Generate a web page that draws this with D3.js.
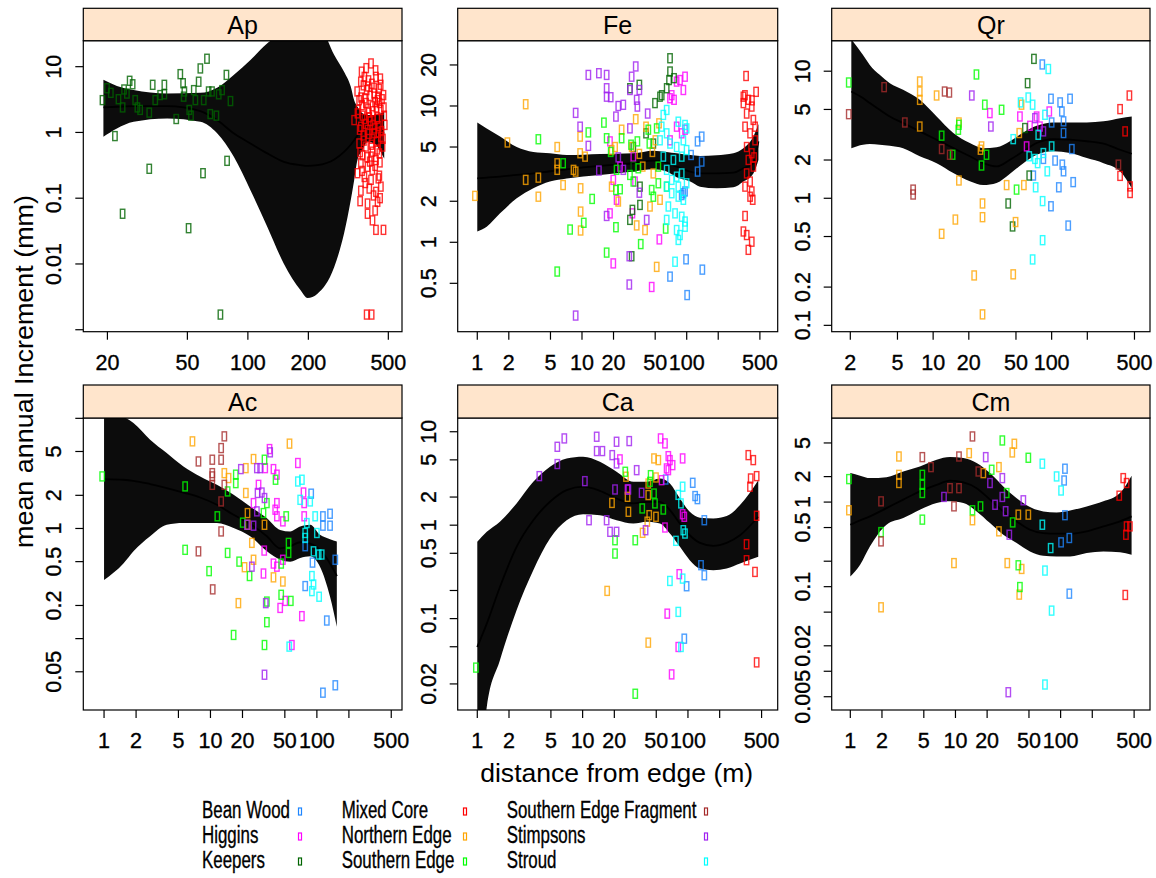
<!DOCTYPE html>
<html lang="en">
<head>
<meta charset="UTF-8">
<title>mean annual increment vs distance from edge</title>
<style>
  body { margin: 0; background: #fff; }
  svg { display: block; font-family: 'Liberation Sans', Arial, sans-serif; }
  .lbl { stroke: #000; stroke-width: 0.35; }
</style>
</head>
<body>
<script src="https://cdn.jsdelivr.net/npm/d3@7"></script>
<script>

var sites = ['Bean Wood', 'Higgins', 'Keepers', 'Mixed Core', 'Northern Edge',
             'Southern Edge', 'Southern Edge Fragment', 'Stimpsons', 'Stroud'];
var siteColors = ['#1e86ff', '#ff00ff', '#006400', '#ff0000', '#ffa500',
                  '#00ff00', '#a52a2a', '#a020f0', '#00ffff'];

// ---- Ap ----
var apKeepers = [[18.9,3.1],[19.9,4.7],[20.8,4.0],[21.8,0.88],[22.7,3.2],[23.8,2.4],[23.8,0.058],[24.2,4.5],[25,3.9],[25.8,6.1],[26.7,5.4],[27.5,3.1],[28.2,2.4],[29.1,2.2],[32.3,2.0],[32.3,0.28],[33.6,5.3],[34.6,3.1],[36.6,3.7],[38.4,5.3],[38.4,3.8],[44,1.6],[46.1,7.7],[47.6,5.6],[47.9,3.5],[48.3,4.2],[50.7,0.035],[51.1,2.2],[52.1,1.8],[53.8,4.4],[54.8,3.1],[56.9,5.9],[58,9.4],[59.8,0.24],[60.3,3.1],[62.6,13.2],[63.8,4.2],[65,1.9],[66.3,4.2],[69.7,1.8],[71.6,3.8],[73,0.0017],[74.4,4.4],[78.2,7.5],[78.8,0.37],[81.9,3.0]];
var apMixedCore = [[368,8.4],[410,11.2],[434,7.0],[456,6.6],[365,5.9],[394,5.0],[425,3.9],[473,3.7],[358,3.1],[387,2.8],[417,2.5],[459,2.2],[351,1.95],[380,1.6],[442,1.7],[477,1.8],[365,1.22],[394,1.09],[425,0.97],[459,0.86],[358,0.68],[387,0.61],[417,0.51],[451,0.48],[365,0.34],[394,0.30],[434,0.38],[351,0.24],[380,0.21],[410,0.19],[451,0.22],[365,0.13],[402,0.14],[434,0.125],[459,0.15],[394,0.083],[442,0.088],[394,0.058],[417,0.046],[434,0.033],[473,0.033],[390,0.0017],[413,0.0017],[372,0.45],[468,0.61],[338,1.54],[402,1.7],[442,3.1],[380,7.0],[410,0.43],[400,2.0],[420,1.3],[445,1.0],[370,2.6],[430,2.9],[390,4.4],[450,4.6],[415,0.8],[375,0.9],[440,0.55],
  [350,4.2],[355,2.2],[360,1.1],[362,0.5],[366,3.4],[370,0.26],[372,1.8],[376,5.2],[378,0.75],[382,3.3],[384,0.17],[386,1.35],[388,9.5],[392,0.42],[396,2.3],[398,6.2],[400,0.95],[404,0.36],[406,3.6],[408,1.5],[412,0.65],[414,5.5],[416,0.27],[418,2.1],[422,0.11],[424,4.8],[428,1.15],[430,0.31],[432,8.8],[436,2.4],[438,0.72],[440,1.6],[444,3.5],[446,0.2],[448,1.25],[452,2.8],[454,0.35],[458,5.3],[462,1.05],[465,3.2],[470,0.8],[475,2.4],[480,1.3],[362,0.09],[430,0.065],[455,0.1]];
var apBandX   = [19.1,22.3,27,39.6,58,70.3,85,103,125,151,183,198,222,269,301,325,338,351,372,394,425,477];
var apBandFit = [2.40,2.46,2.52,2.52,2.11,1.54,0.97,0.68,0.48,0.357,0.318,0.31,0.318,0.388,0.508,0.65,0.76,0.9,1.1,1.25,1.1,0.97];
var apBandLo  = [0.86,1.15,1.45,1.63,1.45,0.97,0.43,0.132,0.0366,0.0101,0.00397,0.00303,0.00353,0.0090,0.029,0.093,0.188,0.38,0.54,0.72,0.68,0.40];
var apBandHi  = [6.3,5.1,4.4,3.9,4.0,4.8,7.5,12.6,22.7,34,51,54,48,15.1,8.4,5.0,3.1,2.46,1.95,1.84,1.84,2.07];

// ---- Fe ----
var feBeanWood = [[110,4.37],[127,5.5],[139,5.96],[127,3.3],[139,3.91],[141,0.63],[101,0.41],[98.6,0.75],[92.9,2.29],[96.4,2.36],[89.6,2.22],[69.3,0.56]];
var feHiggins = [[18.5,5.5],[19.9,0.70],[19.9,2.87],[21.4,2.05],[30.3,1.63],[32.1,2.79],[46.3,0.47],[54.8,1.05],[69.3,11.4],[71.9,12.0],[75.7,11.1],[80.2,15.1],[86.3,15.5],[92.9,13.1],[96.4,16.4],[18.5,1.63],[23.1,3.59],[30.9,4.25],[69.3,5.6],[80.2,7.05],[89.6,6.3],[96.4,6.7]];
var feKeepers = [[28.7,13.5],[30.3,1.73],[30.9,5.0],[35.3,14.3],[35.8,2.56],[35.8,1.88],[49.8,10.5],[55.6,11.7],[57.7,12.0],[64.4,13.5],[67.8,15.5],[69.3,22.4],[75.7,16.0],[69.3,17.9],[28.7,1.46],[29.8,0.79],[40.9,6.3],[48,5.3],[30.9,3.59]];
var feMixedCore = [[369,16.6],[460,12.7],[348,11.7],[388,11.1],[418,9.9],[374,8.8],[433,7.9],[361,7.05],[403,6.3],[450,5.6],[374,5.0],[418,4.5],[388,4.02],[433,3.59],[374,3.2],[403,2.79],[418,2.36],[403,2.16],[361,1.56],[348,1.2],[374,1.13],[418,1.01],[388,0.88],[427,2.05],[361,2.56],[450,7.05],[348,10.5],[360,12],[420,11],[440,4.2]];
var feNorthernEdge = [[0.95,2.19],[1.94,5.4],[2.9,10.3],[2.9,2.87],[3.83,2.98],[3.83,2.16],[5.8,5.0],[5.8,3.8],[5.8,3.4],[6.6,2.63],[8.3,3.4],[8.7,3.3],[9.6,5.96],[9.6,4.5],[9.7,2.49],[9.7,1.68],[9.7,1.22],[10.7,4.25],[19.2,4.75],[19.2,2.56],[20.7,5.0],[22.2,1.99],[23.9,6.7],[29.8,5.0],[32.6,8.0],[33.3,1.33],[35.3,4.45],[38,3.59],[40,1.23],[40.9,7.05],[44.6,1.83],[51.7,0.66],[54.4,7.46],[55.6,2.05],[47,4.6],[50.2,5.6],[48,3.2]];
var feSouthernEdge = [[3.83,5.7],[5.8,0.61],[6.6,3.8],[7.7,1.24],[10.4,1.39],[11.5,6.4],[12.5,2.08],[16.2,7.55],[17.2,5.8],[17.2,0.84],[18.8,4.6],[21.1,1.29],[21.4,3.4],[21.1,2.42],[23.1,2.45],[23.9,5.8],[28.7,3.12],[29.4,5.2],[30.9,2.79],[33.8,5.5],[34.5,3.49],[36.4,0.97],[43,6.7],[46.3,2.42],[48,2.16],[53.6,2.71],[53.6,3.59],[63,1.26],[64.4,2.56],[44,5.3],[51.7,6.85]];
var feStimpsons = [[8.7,8.9],[9.6,7.05],[11.5,5.1],[11.5,16.9],[14.5,17.4],[14.5,3.36],[17.2,16.9],[17.2,13.5],[17.2,11.7],[17.2,1.56],[18.8,11.6],[21.1,8.36],[22.2,10],[24.8,10.2],[28.7,6.85],[28.7,13.1],[29.8,16.4],[32.6,19.5],[33.3,11.1],[33.8,9.9],[35.3,2.31],[35.3,13.1],[41.5,1.46],[42.4,8.8],[28.3,0.49],[28.3,0.79],[8.7,0.29],[24.8,3.4],[22.2,4.2]];
var feStroud = [[59.8,8.6],[64.4,9.35],[57.7,7.05],[64.4,6.3],[83.2,7.67],[96.4,7.26],[99.8,6.85],[55.6,5.6],[69.3,5.3],[80.2,5.0],[92.9,5.6],[59.8,4.25],[74.6,4.02],[89.6,4.25],[99.8,4.75],[64.4,3.4],[80.2,3.03],[89.6,3.2],[99.8,2.71],[64.4,2.56],[71.9,2.29],[83.2,2.16],[92.9,2.05],[66.8,1.83],[77.4,1.63],[89.6,1.54],[96.4,1.42],[80.2,1.23],[86.3,1.13],[96.4,1.30],[83.2,1.04],[77.4,0.72],[64.4,1.46],[83.2,2.56],[71.9,2.87]];
var feBandX   = [1,1.23,1.65,2.38,3.43,4.94,7.14,14.9,30.9,48,64.4,80.2,108,134,194,279,348,433,484];
var feBandFit = [2.94,2.98,3.03,3.12,3.2,3.32,3.43,3.63,3.80,3.97,3.84,3.59,3.3,3.2,3.2,3.24,3.49,3.80,5.5];
var feBandLo  = [1.20,1.30,1.63,2.10,2.49,2.79,2.94,3.12,3.3,3.43,3.3,3.0,2.79,2.56,2.49,2.53,2.79,3.2,4.02];
var feBandHi  = [7.55,6.85,5.96,5.0,4.6,4.5,4.37,4.45,4.5,4.7,4.6,4.5,4.37,4.30,4.35,4.5,4.89,5.96,7.38];

// ---- Qr ----
var qrBeanWood = [[83.4,11.3],[98.7,6.07],[118,5.68],[143,6.07],[122,4.82],[126,4.03],[126,3.26],[100,3.95],[148,2.44],[107,1.98],[123,1.84],[126,1.63],[152,1.34],[115,1.22],[98.7,0.865],[138,0.61],[70,1.51],[85.1,2.04]];
var qrHiggins = [[30.1,4.68],[54,4.40],[65.6,3.72],[95.5,4.82],[74.7,4.40],[61.5,2.56],[79.7,3.67]];
var qrKeepers = [[70.9,12.5],[62.7,8.05],[43,0.91],[46.8,0.60],[64.7,1.51],[59.5,3.57]];
var qrMixedCore = [[453,6.44],[378,5.03],[417,3.36],[459,1.24],[459,1.10],[378,1.50]];
var qrNorthernEdge = [[7.71,8.3],[7.71,6.92],[7.71,5.95],[7.71,3.67],[10.7,6.44],[16.5,3.95],[16.5,1.38],[15.4,0.68],[11.8,0.525],[26.1,0.91],[26.1,0.71],[22.2,0.247],[26.1,0.122],[25.1,2.41],[41.7,1.27],[49.6,0.65],[47.4,0.252],[58.3,1.27],[55.7,5.45],[53.3,3.26],[25.6,2.56]];
var qrSouthernEdge = [[1.94,8.15],[23.2,9.42],[27.3,5.45],[37.8,4.97],[16.3,3.46],[11.8,3.11],[14.6,2.20],[25.6,1.81],[28.2,2.20],[50.6,1.17],[16.5,3.79]];
var qrSouthernFragment = [[1.94,4.59],[3.86,7.49],[5.77,3.95],[6.78,1.07],[6.78,1.17],[12.5,6.92],[13.7,6.79],[11.8,2.44],[13.8,2.20],[366,1.84]];
var qrStimpsons = [[21.2,6.44],[30.7,3.67],[72.3,4.27],[85.1,3.36]];
var qrStroud = [[93.7,10.4],[63.5,6.21],[54.7,5.68],[69.1,5.45],[47.4,2.92],[64.7,2.14],[72.3,2.04],[76.2,1.89],[91.9,1.63],[73.3,1.22],[83.9,0.95],[83.9,0.468],[69.1,0.33],[85.1,2.27],[100,2.56],[77.1,3.16],[87.9,4.54]];
var qrBandX   = [2.04,2.56,2.92,3.54,4.31,5.58,7.71,10.7,14.8,20.4,26.5,34.3,44.5,57.7,74.7,103,143,198,274,378,474];
var qrBandFit = [6.92,6.14,5.61,4.97,4.40,3.91,3.36,2.89,2.48,2.14,1.89,1.78,2.01,2.34,2.72,2.92,2.89,2.81,2.69,2.41,2.24];
var qrBandLo  = [2.48,2.64,2.67,2.64,2.59,2.48,2.14,1.89,1.58,1.36,1.27,1.32,1.56,1.89,2.20,2.34,2.27,2.07,1.89,1.63,1.20];
var qrBandHi  = [17.8,13.4,11.2,9.36,8.05,7.13,5.95,4.40,3.26,2.72,2.48,2.52,2.81,3.30,3.72,3.95,3.95,3.95,4.03,4.27,4.40];

// ---- Ac ----
var acBeanWood = [[88.4,2.07],[77.7,0.69],[91,0.49],[77.7,0.30],[114,1.29],[114,1.06],[133,1.36],[133,1.06],[149,0.52],[124,0.146],[114,0.0323],[149,0.0377]];
var acHiggins = [[35.9,5.26],[32.7,3.53],[39.1,3.46],[42.1,3.08],[28.3,2.49],[25.4,1.70],[32,0.63],[31.5,0.39],[39.1,0.48],[42.1,0.45],[47.9,0.52],[45.2,0.19],[50.4,0.22],[58.2,0.0875],[72.3,0.16],[66.3,3.93],[74.9,2.12],[76,1.70],[76,1.29],[42.1,1.70],[42.1,1.29],[47.9,1.16],[40.6,1.48]];
var acNorthernEdge = [[6.77,6.18],[13.5,3.18],[14.8,2.87],[21.5,3.53],[21.5,2.10],[25.4,4.27],[22.4,1.08],[24.5,0.74],[25.4,0.52],[20.9,0.445],[18.3,0.21],[32.2,1.08],[39.1,0.36],[47.9,0.33],[55.3,5.89],[22.3,1.38]];
var acSouthernEdge = [[0.96,2.97],[5.78,2.41],[5.78,0.64],[9.71,0.41],[11.6,1.29],[14.5,2.17],[14.5,0.60],[16.5,0.108],[17.3,3.08],[17.3,2.58],[18.6,0.50],[23.3,0.37],[31.5,1.38],[32.2,4.21],[33.9,1.70],[33.9,0.141],[33.9,0.217],[32.2,0.0875],[40.9,2.77],[46.2,0.48],[46.2,0.25],[51.5,1.29],[54.2,0.74],[54.2,0.60],[56.9,0.22],[20.1,1.13]];
var acSouthernFragment = [[7.71,4.06],[10.4,4.21],[10.4,2.97],[10.4,2.49],[12.6,5.37],[12.6,4.21],[13.5,6.86],[13.5,2.49],[12.6,1.76],[12.6,0.94],[7.71,0.62],[10.5,0.28],[10.4,3.18]];
var acStimpsons = [[19.3,3.46],[27.3,3.53],[29.3,3.53],[36.4,4.91],[27.7,2.10],[30.4,2.12],[27.3,1.43],[22,1.08],[25.4,1.06],[24.5,0.45],[33.1,0.21],[32.2,0.047],[32.2,1.89]];
var acStroud = [[66.3,2.67],[72.3,2.77],[69.7,1.82],[86.5,1.76],[80.5,1.12],[96.4,1.29],[77.7,0.91],[100,0.91],[89.8,0.37],[93,0.31],[89.8,0.27],[105,0.24],[55,0.0846],[111,0.58],[77.7,0.82],[93,0.62],[104,0.58]];
var acBandX   = [1,1.52,1.89,2.71,3.88,5.57,8.0,11.5,16.5,23.6,33.9,45.2,56.1,69.7,86.5,107,133,154];
var acBandFit = [2.81,2.77,2.71,2.53,2.33,2.12,1.91,1.64,1.33,1.10,0.85,0.66,0.69,0.75,0.73,0.64,0.48,0.37];
var acBandLo  = [0.34,0.48,0.62,0.85,1.08,1.12,1.12,1.12,1.01,0.85,0.62,0.52,0.50,0.54,0.56,0.45,0.24,0.128];
var acBandHi  = [13.8,10.4,9.07,6.40,4.84,3.66,2.97,2.49,2.02,1.58,1.24,0.97,0.94,1.04,1.08,0.875,0.80,0.76];

// ---- Ca ----
var caBeanWood = [[111,2.84],[117,2.05],[123,1.90],[143,1.13],[133,0.373],[143,0.291],[97.1,0.222],[92.3,0.061],[61.4,3.08]];
var caHiggins = [[26.7,2.41],[55,8.48],[60.5,7.5],[65.1,5.48],[65.1,3.88],[67.4,4.97],[71.5,4.39],[62.7,4.05],[89,5.18],[56.2,3.03],[60.5,0.944],[92.3,1.23],[89,1.31],[82.7,0.299],[63.6,0.113],[80.9,0.0497],[70,0.0253],[22.6,5.06]];
var caMixedCore = [[374,5.62],[417,4.97],[394,3.16],[449,3.35],[388,2.58],[449,1.26],[360,0.625],[360,0.422],[433,0.316],[449,0.034]];
var caNorthernEdge = [[19,1.73],[25.8,3.30],[27.2,1.39],[47.6,5.18],[52.3,4.97],[37.1,0.828],[41.1,1.09],[42.9,1.28],[42,2.10],[42,2.79],[49.7,1.23],[49.7,3.24],[17.1,0.198],[42,0.0553],[26.7,2.01]];
var caSouthernEdge = [[20.3,0.69],[20.3,0.497],[25.4,3.73],[31.6,0.69],[31.6,0.0157],[44.2,3.43],[47.6,2.18],[48.6,1.71],[58.3,1.47],[0.97,0.0299],[36.8,1.51],[43.6,2.91]];
var caStimpsons = [[3.88,3.35],[5.75,4.51],[5.75,6.9],[6.7,8.48],[10.5,2.96],[11.5,1.13],[13.6,8.84],[13.6,6.21],[15.4,6.21],[16.9,1.13],[18.2,0.849],[19.1,5.62],[21,0.849],[21,7.81],[21,4.58],[20.3,2.41],[27.7,7.94],[27.2,2.41],[32.6,3.88],[36.3,2.22],[39.6,0.883]];
var caStroud = [[76.9,0.68],[67.4,0.253],[89,0.268],[80.9,0.118],[85.8,0.0497],[80.9,2.11],[89,2.58],[85.8,1.71],[93.7,0.814],[90.3,0.883]];
var caBandX   = [1,1.23,1.64,2.36,3.40,4.90,7.05,10.1,14.6,21,30.3,40.5,54.2,67.4,84,104,130,174,233,312,465];
var caBandFit = [0.0497,0.0883,0.218,0.586,1.13,1.78,2.37,2.58,2.33,1.93,1.71,1.78,1.78,1.45,1.04,0.78,0.647,0.601,0.647,0.78,1.23];
var caBandLo  = [0.00104,0.0113,0.0358,0.123,0.33,0.72,1.13,1.31,1.28,1.13,1.04,1.09,1.04,0.814,0.586,0.422,0.343,0.33,0.343,0.388,0.458];
var caBandHi  = [0.663,0.849,1.09,1.71,2.91,4.22,5.18,5.40,4.77,3.73,2.91,2.91,3.16,2.79,1.93,1.39,1.20,1.18,1.25,1.64,3.03];

// ---- Cm ----
var cmBeanWood = [[110,2.48],[108,1.80],[110,0.70],[101,0.334],[121,0.376],[121,0.0826]];
var cmMixedCore = [[394,1.92],[424,1.68],[361,1.19],[424,0.516],[456,0.516],[418,0.411],[412,0.0798]];
var cmNorthernEdge = [[0.97,0.80],[1.96,0.057],[2.90,3.46],[2.90,2.10],[2.90,1.68],[13.5,3.79],[9.68,0.19],[14.5,0.61],[18.4,2.20],[25.9,2.59],[25.9,0.451],[31.1,0.19],[34.7,3.86],[36.3,4.89],[39.6,0.71],[42.6,0.162],[40.4,0.0805],[49.3,0.71]];
var cmSouthernEdge = [[0.97,1.87],[1.96,0.442],[4.84,2.10],[4.84,1.60],[4.84,1.28],[4.84,0.62],[14.5,0.80],[17.3,0.89],[22.1,2.41],[27.9,5.35],[30.7,1.28],[35,0.575],[39.6,0.179],[41,0.099],[49.3,3.34]];
var cmSouthernFragment = [[1.96,1.02],[1.96,0.343],[4.84,3.40],[5.85,2.59],[8.87,1.46],[10.8,3.46],[10.8,1.46],[9.68,0.89],[14.5,5.97],[16.5,2.30]];
var cmStimpsons = [[7.78,1.15],[19.4,3.40],[21.3,1.68],[23.8,0.93],[27.9,1.92],[27.9,1.15],[30,0.78],[32.5,0.411],[44.2,1.05],[31.8,0.00565]];
var cmStroud = [[67,2.84],[91.6,2.01],[101,1.37],[67,0.54],[80.4,0.286],[71,0.155],[82.1,0.0521],[71,0.00697]];
var cmBandX   = [1,1.24,1.54,2.21,3.19,4.59,6.62,8.87,11.9,15.9,21.3,28.5,38.2,51.1,68.4,91.6,123,177,255,367,473];
var cmBandFit = [0.54,0.607,0.677,0.849,1.07,1.34,1.60,1.79,1.71,1.46,1.07,0.776,0.591,0.471,0.43,0.423,0.423,0.451,0.516,0.591,0.677];
var cmBandLo  = [0.132,0.182,0.30,0.54,0.647,0.812,0.973,1.02,0.973,0.776,0.565,0.411,0.328,0.261,0.232,0.228,0.228,0.25,0.261,0.255,0.239];
var cmBandHi  = [2.20,2.05,1.92,1.97,2.30,2.64,3.16,3.40,3.31,2.89,2.20,1.53,1.11,0.873,0.776,0.755,0.797,0.889,1.02,1.28,2.05];

// ticks
var ticks125 = [1, 2, 5, 10, 20, 50, 100, 200, 500];
var labels125 = ['1', '2', '5', '10', '20', '50', '100', '', '500'];

var W = 1156, H = 878;
var svg = d3.select('body').append('svg').attr('width', W).attr('height', H);

var cols = [[83.3, 402], [457.7, 777.7], [831.7, 1150]];
var rows = [{strip: 8.3, top: 40.7, bottom: 331.7}, {strip: 385, top: 418, bottom: 710}];

var panels = [
  {name: 'Ap', col: 0, row: 0, xDom: [1.181, 2.767], yDom: [-3.03, 1.395],
   xTicks: [20, 50, 100, 200, 500], xLabels: ['20', '50', '100', '200', '500'],
   yTicks: [10, 1, 0.1, 0.01, 0.001], yLabels: ['10', '1', '0.1', '0.01', ''],
   band: [apBandX, apBandFit, apBandLo, apBandHi],
   groups: {'Keepers': apKeepers, 'Mixed Core': apMixedCore}},
  {name: 'Fe', col: 1, row: 0, xDom: [-0.187, 2.869], yDom: [-0.656, 1.479],
   xTicks: ticks125, xLabels: labels125,
   yTicks: [20, 10, 5, 2, 1, 0.5], yLabels: ['20', '10', '5', '2', '1', '0.5'],
   band: [feBandX, feBandFit, feBandLo, feBandHi],
   groups: {'Bean Wood': feBeanWood, 'Higgins': feHiggins, 'Keepers': feKeepers, 'Mixed Core': feMixedCore,
            'Northern Edge': feNorthernEdge, 'Southern Edge': feSouthernEdge, 'Stimpsons': feStimpsons, 'Stroud': feStroud}},
  {name: 'Qr', col: 2, row: 0, xDom: [0.144, 2.83], yDom: [-1.05, 1.24],
   xTicks: [2, 5, 10, 20, 50, 100, 200, 500], xLabels: ['2', '5', '10', '20', '50', '100', '', '500'],
   yTicks: [10, 5, 2, 1, 0.5, 0.2, 0.1], yLabels: ['10', '5', '2', '1', '0.5', '0.2', '0.1'],
   band: [qrBandX, qrBandFit, qrBandLo, qrBandHi],
   groups: {'Bean Wood': qrBeanWood, 'Higgins': qrHiggins, 'Keepers': qrKeepers, 'Mixed Core': qrMixedCore,
            'Northern Edge': qrNorthernEdge, 'Southern Edge': qrSouthernEdge, 'Southern Edge Fragment': qrSouthernFragment,
            'Stimpsons': qrStimpsons, 'Stroud': qrStroud}},
  {name: 'Ac', col: 0, row: 1, xDom: [-0.195, 2.80], yDom: [-1.648, 1.003],
   xTicks: ticks125, xLabels: labels125,
   yTicks: [10, 5, 2, 1, 0.5, 0.2, 0.1, 0.05], yLabels: ['', '5', '2', '1', '0.5', '0.2', '', '0.05'],
   band: [acBandX, acBandFit, acBandLo, acBandHi],
   groups: {'Bean Wood': acBeanWood, 'Higgins': acHiggins, 'Northern Edge': acNorthernEdge, 'Southern Edge': acSouthernEdge,
            'Southern Edge Fragment': acSouthernFragment, 'Stimpsons': acStimpsons, 'Stroud': acStroud}},
  {name: 'Ca', col: 1, row: 1, xDom: [-0.186, 2.852], yDom: [-1.978, 1.147],
   xTicks: ticks125, xLabels: labels125,
   yTicks: [10, 5, 2, 1, 0.5, 0.2, 0.1, 0.05, 0.02], yLabels: ['10', '5', '2', '1', '0.5', '', '0.1', '', '0.02'],
   band: [caBandX, caBandFit, caBandLo, caBandHi],
   groups: {'Bean Wood': caBeanWood, 'Higgins': caHiggins, 'Mixed Core': caMixedCore, 'Northern Edge': caNorthernEdge,
            'Southern Edge': caSouthernEdge, 'Stimpsons': caStimpsons, 'Stroud': caStroud}},
  {name: 'Cm', col: 2, row: 1, xDom: [-0.177, 2.85], yDom: [-2.458, 0.994],
   xTicks: ticks125, xLabels: labels125,
   yTicks: [5, 2, 1, 0.5, 0.2, 0.1, 0.05, 0.02, 0.01, 0.005],
   yLabels: ['5', '2', '1', '0.5', '', '0.1', '', '0.02', '', '0.005'],
   band: [cmBandX, cmBandFit, cmBandLo, cmBandHi],
   groups: {'Bean Wood': cmBeanWood, 'Mixed Core': cmMixedCore, 'Northern Edge': cmNorthernEdge, 'Southern Edge': cmSouthernEdge,
            'Southern Edge Fragment': cmSouthernFragment, 'Stimpsons': cmStimpsons, 'Stroud': cmStroud}}
];

panels.forEach(function (p, i) {
  var left = cols[p.col][0], right = cols[p.col][1];
  var r = rows[p.row];
  var x = d3.scaleLog().domain([Math.pow(10, p.xDom[0]), Math.pow(10, p.xDom[1])]).range([left, right]);
  var y = d3.scaleLog().domain([Math.pow(10, p.yDom[0]), Math.pow(10, p.yDom[1])]).range([r.bottom, r.top]);
  var g = svg.append('g').attr('class', 'panel');

  svg.append('clipPath').attr('id', 'clip' + i)
     .append('rect')
     .attr('x', left).attr('y', r.top)
     .attr('width', right - left).attr('height', r.bottom - r.top);

  var plot = g.append('g').attr('clip-path', 'url(#clip' + i + ')');

  var bandData = p.band[0].map(function (bx, j) {
    return {x: bx, fit: p.band[1][j], lo: p.band[2][j], hi: p.band[3][j]};
  });

  plot.append('path')
      .datum(bandData)
      .attr('fill', '#0c0c0c')
      .attr('d', d3.area()
                   .x(function (d) { return x(d.x); })
                   .y0(function (d) { return y(d.lo); })
                   .y1(function (d) { return y(d.hi); })
                   .curve(d3.curveMonotoneX));

  plot.append('path')
      .datum(bandData)
      .attr('fill', 'none')
      .attr('stroke', '#000')
      .attr('stroke-width', 1.8)
      .attr('d', d3.line()
                   .x(function (d) { return x(d.x); })
                   .y(function (d) { return y(d.fit); })
                   .curve(d3.curveMonotoneX));

  sites.forEach(function (s, k) {
    var pts = p.groups[s];
    if (!pts) return;
    plot.append('g')
        .selectAll('rect')
        .data(pts)
        .enter()
        .append('rect')
        .attr('x', function (d) { return x(d[0]) - 2.2; })
        .attr('y', function (d) { return y(d[1]) - 4.5; })
        .attr('width', 4.4)
        .attr('height', 9)
        .attr('fill', 'none')
        .attr('stroke', siteColors[k])
        .attr('stroke-opacity', 0.8)
        .attr('stroke-width', 1.4);
  });

  // panel border
  g.append('rect')
   .attr('x', left).attr('y', r.top)
   .attr('width', right - left).attr('height', r.bottom - r.top)
   .attr('fill', 'none').attr('stroke', '#000').attr('stroke-width', 1.2);

  // strip
  g.append('rect')
   .attr('x', left).attr('y', r.strip)
   .attr('width', right - left).attr('height', r.top - r.strip)
   .attr('fill', '#ffe5cc').attr('stroke', '#000').attr('stroke-width', 1.2);
  g.append('text')
   .attr('x', (left + right) / 2).attr('y', r.strip + 26)
   .attr('text-anchor', 'middle')
   .attr('font-size', 25)
   .text(p.name);

  // x ticks
  var xt = g.append('g');
  p.xTicks.forEach(function (t, j) {
    xt.append('line')
      .attr('x1', x(t)).attr('x2', x(t))
      .attr('y1', r.bottom).attr('y2', r.bottom + 8)
      .attr('stroke', '#000').attr('stroke-width', 1.2);
    if (p.xLabels[j]) {
      xt.append('text')
        .attr('class', 'lbl')
        .attr('x', x(t)).attr('y', r.bottom + 38)
        .attr('text-anchor', 'middle')
        .attr('font-size', 21.5)
        .text(p.xLabels[j]);
    }
  });

  // y ticks
  var yt = g.append('g');
  p.yTicks.forEach(function (t, j) {
    yt.append('line')
      .attr('x1', left - 8).attr('x2', left)
      .attr('y1', y(t)).attr('y2', y(t))
      .attr('stroke', '#000').attr('stroke-width', 1.2);
    if (p.yLabels[j]) {
      yt.append('text')
        .attr('class', 'lbl')
        .attr('transform', 'translate(' + (left - 22) + ',' + y(t) + ') rotate(-90)')
        .attr('text-anchor', 'middle')
        .attr('font-size', 21.5)
        .text(p.yLabels[j]);
    }
  });
});

// axis titles
svg.append('text')
   .attr('x', 616.7).attr('y', 781.5)
   .attr('text-anchor', 'middle')
   .attr('font-size', 26)
   .attr('textLength', 273)
   .attr('lengthAdjust', 'spacingAndGlyphs')
   .text('distance from edge (m)');

svg.append('text')
   .attr('transform', 'translate(33,371.5) rotate(-90)')
   .attr('text-anchor', 'middle')
   .attr('font-size', 26)
   .attr('textLength', 353)
   .attr('lengthAdjust', 'spacingAndGlyphs')
   .text('mean annual Increment (mm)');

// legend: three columns, three rows
var legTextX = [202, 341.7, 506.7];
var legKeyX = [300, 465, 706];
var legRowY = [818, 843, 868];

var legend = svg.append('g').attr('class', 'legend');
sites.forEach(function (s, k) {
  var c = Math.floor(k / 3), rr = k % 3;
  legend.append('text')
        .attr('class', 'lbl')
        .attr('transform', 'translate(' + legTextX[c] + ',' + legRowY[rr] + ') scale(0.69,1)')
        .attr('font-size', 24.5)
        .text(s);
  legend.append('rect')
        .attr('x', legKeyX[c] - 1.5).attr('y', legRowY[rr] - 10)
        .attr('width', 3).attr('height', 7)
        .attr('fill', 'none')
        .attr('stroke', siteColors[k])
        .attr('stroke-width', 1.2);
});
</script>
</body>
</html>
